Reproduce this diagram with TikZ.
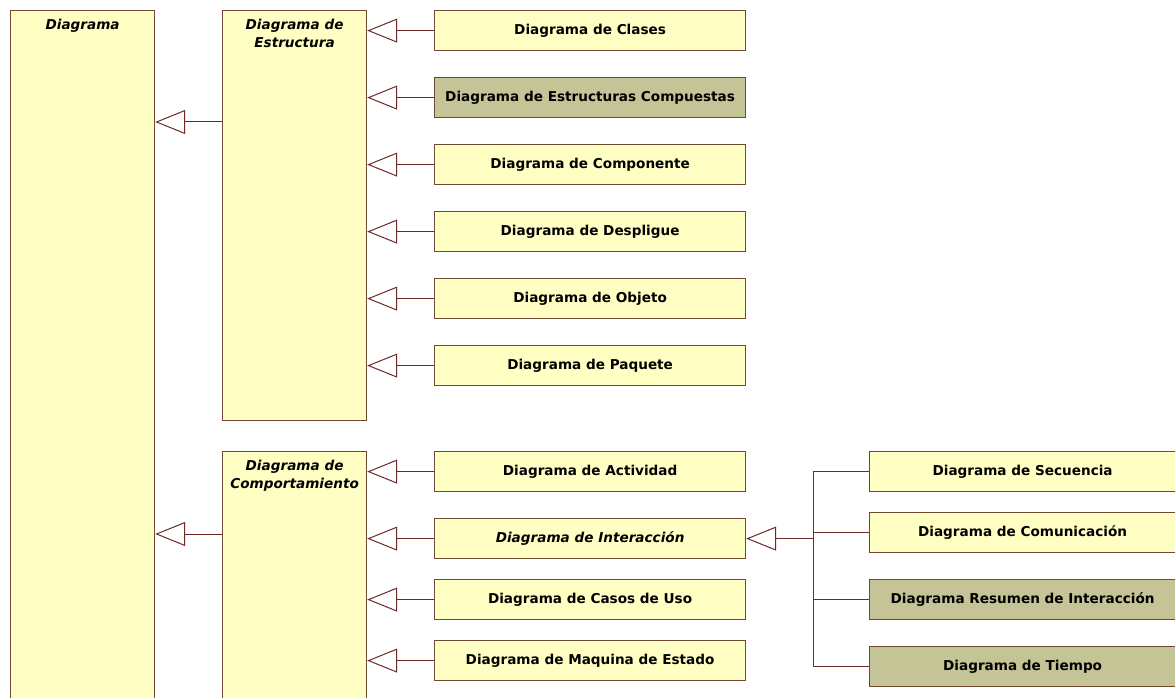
\documentclass[tikz,border=0pt]{standalone}
\usepackage{fontspec}
\setmainfont{DejaVu Sans}
\usetikzlibrary{arrows.meta}
\definecolor{boxyellow}{RGB}{255,255,196}
\definecolor{boxolive}{RGB}{196,196,150}
\definecolor{boxline}{RGB}{112,72,52}
\definecolor{linkline}{RGB}{110,40,40}
\tikzset{
    diabox/.style={draw=boxline,fill=boxyellow,line width=1.2pt,anchor=north west,
        minimum width=311pt,minimum height=40pt,inner sep=0pt,
        font=\fontsize{13.6}{15}\selectfont\bfseries},
    newbox/.style={diabox,fill=boxolive},
    bigbox/.style={draw=boxline,fill=boxyellow,line width=1.2pt,anchor=north west,
        minimum width=144pt,inner sep=0pt},
    boxtitle/.style={anchor=north,yshift=-6pt,align=center,
        font=\fontsize{13.6}{18}\selectfont\bfseries\itshape},
    inh/.style={draw=linkline,line width=1pt,
        -{Triangle[open,length=30pt,width=24pt,line width=1pt]}},
    bus/.style={draw=linkline,line width=1pt}
}
\begin{document}
\begin{tikzpicture}[x=1pt,y=-1pt]
        \useasboundingbox (0,0) rectangle (1175,698);
        \clip (0,0) rectangle (1175,698);
        \fill[white] (0,0) rectangle (1175,698);
        % abstract boxes
        \node[bigbox,minimum height=720pt,label={[boxtitle]north:Diagrama}] (diag) at (10,10) {};
        \node[bigbox,minimum height=410pt,label={[boxtitle]north:Diagrama de\\Estructura}] (estr) at (222,10) {};
        \node[bigbox,minimum height=280pt,label={[boxtitle]north:Diagrama de\\Comportamiento}] (comp) at (222,451) {};
        % structure diagrams
        \node[diabox] (clases) at (434,10) {Diagrama de Clases};
        \node[newbox] (compuestas) at (434,77) {Diagrama de Estructuras Compuestas};
        \node[diabox] (componente) at (434,144) {Diagrama de Componente};
        \node[diabox] (despligue) at (434,211) {Diagrama de Despligue};
        \node[diabox] (objeto) at (434,278) {Diagrama de Objeto};
        \node[diabox] (paquete) at (434,345) {Diagrama de Paquete};
        % behaviour diagrams
        \node[diabox] (actividad) at (434,451) {Diagrama de Actividad};
        \node[diabox,font=\fontsize{13.6}{15}\selectfont\bfseries\itshape] (interaccion) at (434,518) {Diagrama de Interacción};
        \node[diabox] (casos) at (434,579) {Diagrama de Casos de Uso};
        \node[diabox] (maquina) at (434,640) {Diagrama de Maquina de Estado};
        % interaction diagrams
        \node[diabox,minimum width=306pt] (secuencia) at (869,451) {Diagrama de Secuencia};
        \node[diabox,minimum width=306pt] (comunicacion) at (869,512) {Diagrama de Comunicación};
        \node[newbox,minimum width=306pt] (resumen) at (869,579) {Diagrama Resumen de Interacción};
        \node[newbox,minimum width=306pt] (tiempo) at (869,646) {Diagrama de Tiempo};
        % generalizations
        \coordinate (estrIn) at (222,122);
        \coordinate (compIn) at (222,534);
        \coordinate (busTop) at (813,0);
        \draw[inh] (estrIn) -- (diag.east |- estrIn);
        \draw[inh] (compIn) -- (diag.east |- compIn);
        \foreach \d in {clases,compuestas,componente,despligue,objeto,paquete}
            \draw[inh] (\d.west) -- (estr.east |- \d.west);
        \foreach \d in {actividad,interaccion,casos,maquina}
            \draw[inh] (\d.west) -- (comp.east |- \d.west);
        \draw[bus] (secuencia.west) -- (busTop |- secuencia.west) -- (busTop |- tiempo.west) -- (tiempo.west);
        \draw[bus] (comunicacion.west) -- (busTop |- comunicacion.west);
        \draw[bus] (resumen.west) -- (busTop |- resumen.west);
        \draw[inh] (busTop |- interaccion.east) -- (interaccion.east);
    \end{tikzpicture}
\end{document}
